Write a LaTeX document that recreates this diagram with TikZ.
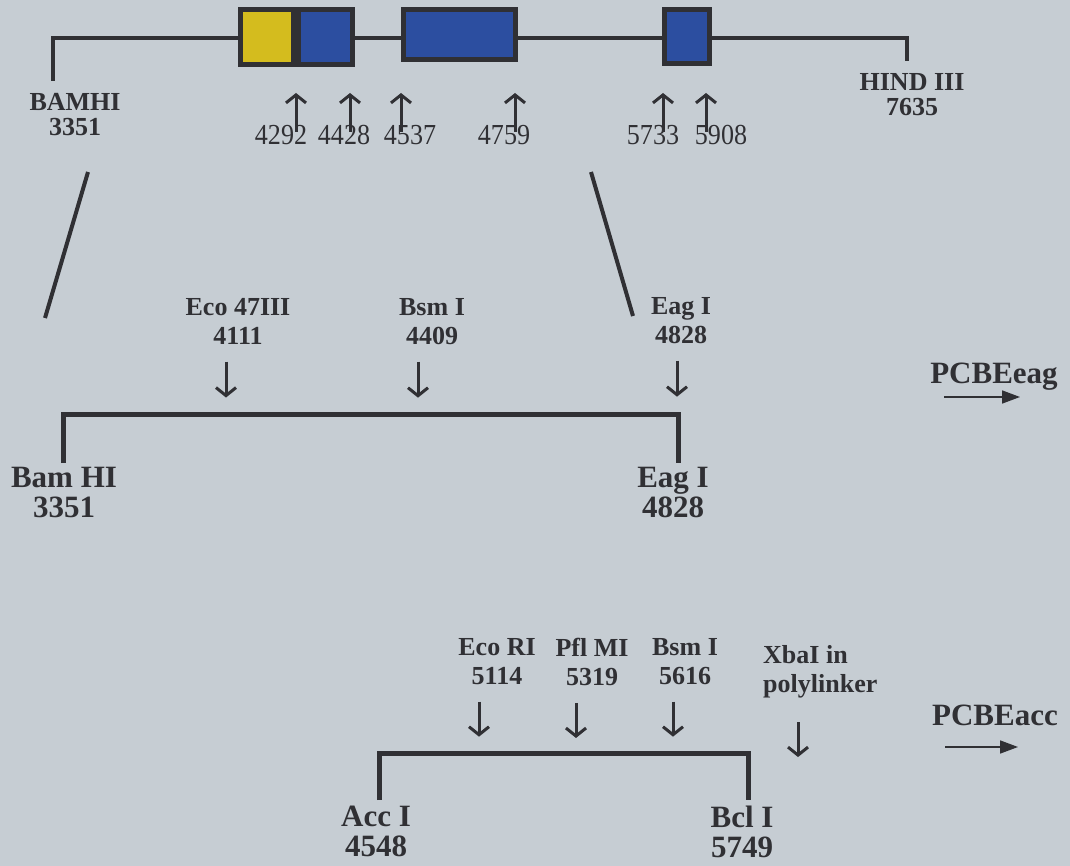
\documentclass[tikz,border=0pt]{standalone}
\usepackage{fontspec}
\setmainfont{Liberation Serif}
\usetikzlibrary{arrows.meta}
\definecolor{bgcol}{RGB}{198,205,211}
\definecolor{ink}{RGB}{48,48,52}
\definecolor{exonblue}{RGB}{44,78,160}
\definecolor{exonyellow}{RGB}{212,188,30}

\begin{document}
\begin{tikzpicture}[x=1pt,y=-1pt,
toplbl/.style={font=\fontsize{26}{25}\selectfont\bfseries,text=ink,align=center,inner sep=0pt,anchor=north},
lbl/.style={font=\fontsize{26}{29}\selectfont\bfseries,text=ink,align=center,inner sep=0pt,anchor=north},
big/.style={font=\fontsize{31}{30}\selectfont\bfseries,text=ink,align=center,inner sep=0pt,anchor=north},
num/.style={font=\fontsize{29}{29}\selectfont\addfontfeatures{FakeStretch=0.9},text=ink,inner sep=0pt,anchor=north},
prodlbl/.style={font=\fontsize{31}{31}\selectfont\bfseries,text=ink,inner sep=0pt,anchor=base},
exon/.style={fill=ink,inner sep=0pt},
dna/.style={draw=ink,line width=4pt},
brk/.style={draw=ink,line width=5pt},
cut/.style={draw=ink,line width=3pt,-{Straight Barb[length=8pt,width=20pt]}},
prod/.style={draw=ink,line width=1.6pt,-{Triangle[length=18pt,width=13pt]}}]
\fill[bgcol] (0,0) rectangle (1070,866);
\useasboundingbox (0,0) rectangle (1070,866);

\coordinate (bamcut) at (53,81);
\coordinate (hindcut) at (907,61);
\draw[dna] (bamcut) -- ++(0,-43) -| (hindcut);

\node[exon,minimum width=117pt,minimum height=60pt] (ex1) at (296.5,37) {};
\node[fill=exonyellow,inner sep=0pt,minimum width=48pt,minimum height=50pt] (ex1y) at (267,37) {};
\node[fill=exonblue,inner sep=0pt,minimum width=49pt,minimum height=50pt] (ex1b) at (325.5,37) {};
\node[exon,minimum width=117pt,minimum height=55pt] (ex2) at (459.5,34.5) {};
\node[fill=exonblue,inner sep=0pt,minimum width=107pt,minimum height=45pt] (ex2b) at (ex2) {};
\node[exon,minimum width=50pt,minimum height=59pt] (ex3) at (687,36.5) {};
\node[fill=exonblue,inner sep=0pt,minimum width=40pt,minimum height=49pt] (ex3b) at (ex3) {};

\node[toplbl] (bamtop) at (75,93) {BAMHI\\3351};
\node[toplbl] (hindtop) at (912,73) {HIND III\\7635};

\node[num] (n4292) at (281,125) {4292};
\node[num] (n4428) at (344,125) {4428};
\node[num] (n4537) at (410,125) {4537};
\node[num] (n4759) at (504,125) {4759};
\node[num] (n5733) at (653,125) {5733};
\node[num] (n5908) at (721,125) {5908};
\draw[cut] ([xshift=15pt,yshift=-7pt]n4292.north) -- ++(0,-39);
\draw[cut] ([xshift=6pt,yshift=-7pt]n4428.north) -- ++(0,-39);
\draw[cut] ([xshift=-9pt,yshift=-7pt]n4537.north) -- ++(0,-39);
\draw[cut] ([xshift=11pt,yshift=-7pt]n4759.north) -- ++(0,-39);
\draw[cut] ([xshift=10pt,yshift=-7pt]n5733.north) -- ++(0,-39);
\draw[cut] ([xshift=-15pt,yshift=-7pt]n5908.north) -- ++(0,-39);

\coordinate (zoomL1) at (88,172);
\coordinate (zoomL2) at (45,318);
\coordinate (zoomR1) at (591,172);
\coordinate (zoomR2) at (633,316);
\draw[dna] (zoomL1) -- (zoomL2);
\draw[dna] (zoomR1) -- (zoomR2);

\node[lbl] (eco47) at (238,298) {Eco 47III\\4111};
\node[lbl] (bsmtop) at (432,298) {Bsm I\\4409};
\node[lbl] (eagtop) at (681,297) {Eag I\\4828};
\draw[cut] ([xshift=-12pt,yshift=-17pt]eco47.south) -- ++(0,36);
\draw[cut] ([xshift=-14pt,yshift=-17pt]bsmtop.south) -- ++(0,36);
\draw[cut] ([xshift=-4pt,yshift=-17pt]eagtop.south) -- ++(0,36);

\coordinate (eagleft) at (63,463);
\coordinate (eagright) at (678,463);
\draw[brk] (eagleft) -- ++(0,-49) -| (eagright);
\node[big] (bamlow) at (64,467) {Bam HI\\3351};
\node[big] (eaglow) at (673,467) {Eag I\\4828};

\node[prodlbl] (pcbeeag) at (994,383) {PCBEeag};
\draw[prod] ([xshift=-50pt,yshift=-14pt]pcbeeag.base) -- ++(76,0);

\node[lbl] (ecori) at (497,638) {Eco RI\\5114};
\node[lbl] (pflmi) at (592,638) {Pfl MI\\5319};
\node[lbl] (bsmlow) at (685,638) {Bsm I\\5616};
\node[lbl,align=left,anchor=north west] (xbai) at (763,645) {XbaI in\\polylinker};
\draw[cut] ([xshift=-18pt,yshift=-17pt]ecori.south) -- ++(0,35);
\draw[cut] ([xshift=-16pt,yshift=-17pt]pflmi.south) -- ++(0,35);
\draw[cut] ([xshift=-12pt,yshift=-17pt]bsmlow.south) -- ++(0,35);
\draw[cut] ([xshift=35pt,yshift=-24pt]xbai.south west) -- ++(0,35);

\coordinate (accleft) at (379,800);
\coordinate (accright) at (748,800);
\draw[brk] (accleft) -- ++(0,-47) -| (accright);
\node[big] (acclow) at (376,806) {Acc I\\4548};
\node[big] (bcllow) at (742,806) {Bcl I\\5749};

\node[prodlbl] (pcbeacc) at (995,725) {PCBEacc};
\draw[prod] ([xshift=-50pt,yshift=-22pt]pcbeacc.base) -- ++(73,0);
\end{tikzpicture}
\end{document}
